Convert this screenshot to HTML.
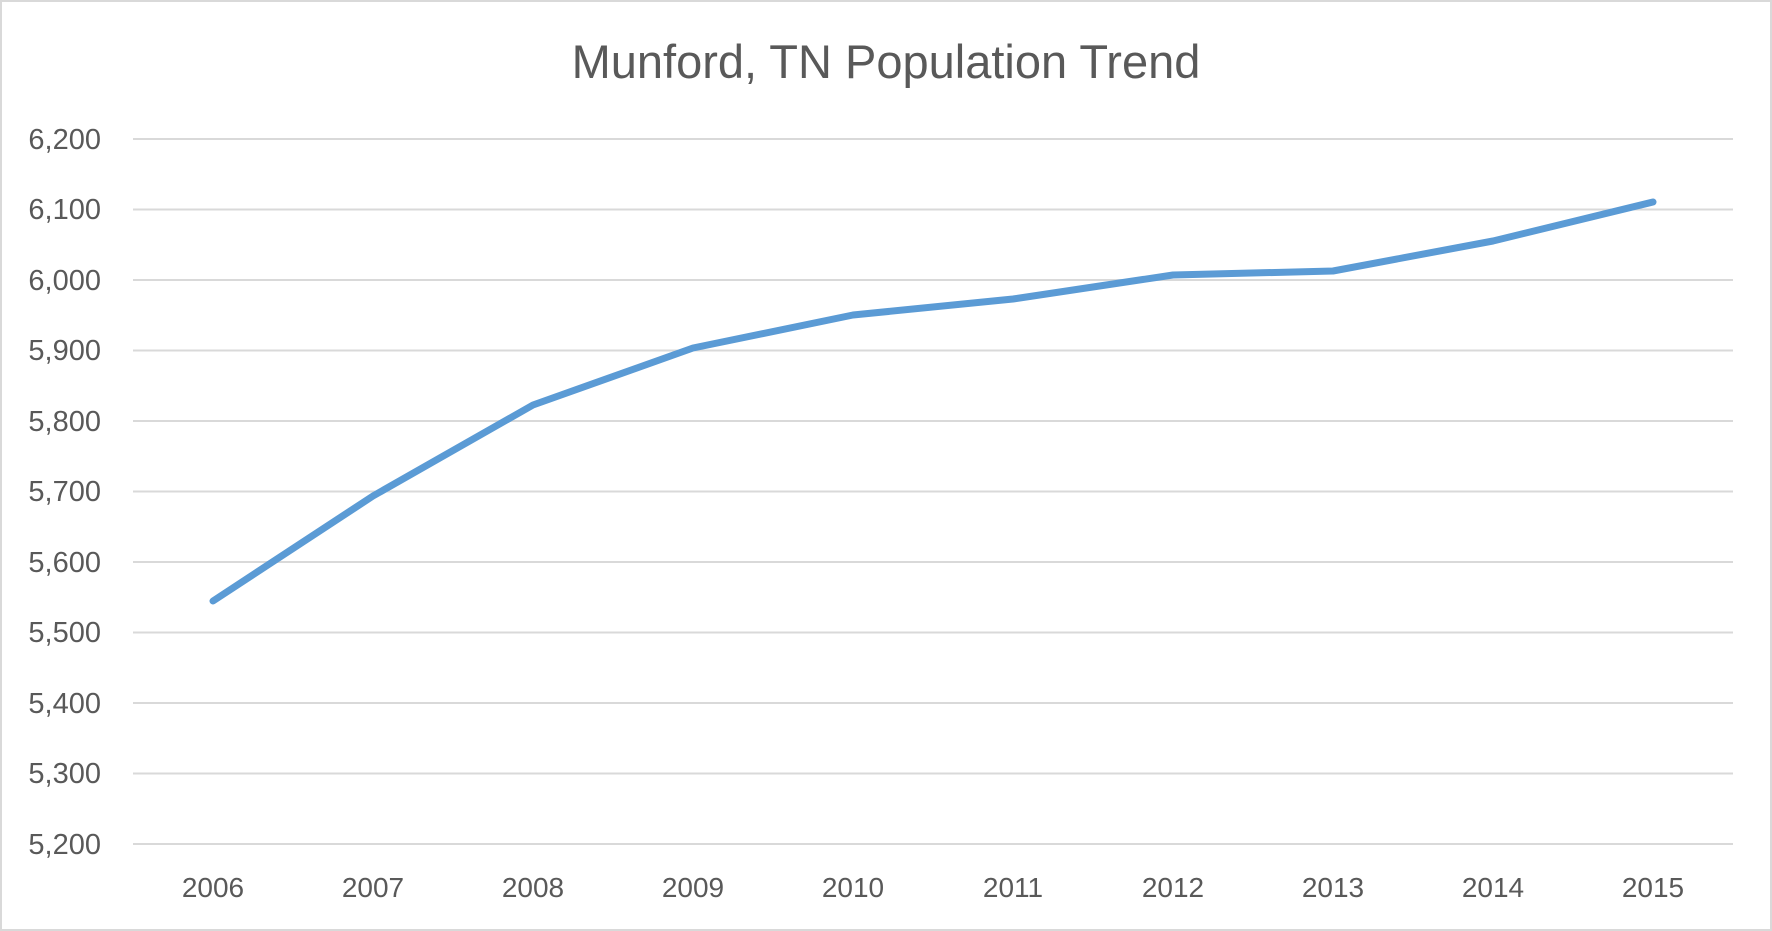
<!DOCTYPE html>
<html><head><style>body{margin:0;background:#fff}svg{display:block}</style></head><body>
<svg width="1772" height="931" xmlns="http://www.w3.org/2000/svg" font-family="Liberation Sans, sans-serif">
<rect x="1" y="1" width="1770" height="929" fill="#fff" stroke="#d9d9d9" stroke-width="2"/>
<text x="886" y="78" text-anchor="middle" font-size="47" fill="#595959">Munford, TN Population Trend</text>
<g stroke="#d9d9d9" stroke-width="2">
<line x1="133" x2="1733" y1="139" y2="139"/><line x1="133" x2="1733" y1="209.5" y2="209.5"/>
<line x1="133" x2="1733" y1="280" y2="280"/><line x1="133" x2="1733" y1="350.5" y2="350.5"/>
<line x1="133" x2="1733" y1="421" y2="421"/><line x1="133" x2="1733" y1="491.5" y2="491.5"/>
<line x1="133" x2="1733" y1="562" y2="562"/><line x1="133" x2="1733" y1="632.5" y2="632.5"/>
<line x1="133" x2="1733" y1="703" y2="703"/><line x1="133" x2="1733" y1="773.5" y2="773.5"/>
<line x1="133" x2="1733" y1="844" y2="844"/>
</g>
<g font-size="29" fill="#595959" text-anchor="end">
<text x="101" y="149">6,200</text><text x="101" y="219">6,100</text><text x="101" y="290">6,000</text>
<text x="101" y="360">5,900</text><text x="101" y="431">5,800</text><text x="101" y="501">5,700</text>
<text x="101" y="572">5,600</text><text x="101" y="642">5,500</text><text x="101" y="713">5,400</text>
<text x="101" y="783">5,300</text><text x="101" y="854">5,200</text>
</g>
<g font-size="28" fill="#595959" text-anchor="middle">
<text x="213" y="897">2006</text><text x="373" y="897">2007</text><text x="533" y="897">2008</text>
<text x="693" y="897">2009</text><text x="853" y="897">2010</text><text x="1013" y="897">2011</text>
<text x="1173" y="897">2012</text><text x="1333" y="897">2013</text><text x="1493" y="897">2014</text>
<text x="1653" y="897">2015</text>
</g>
<polyline fill="none" stroke="#5b9bd5" stroke-width="7" stroke-linejoin="round" stroke-linecap="round"
points="213,601 373,496 533,405 693,348 853,315 1013,299 1173,275 1333,271 1493,241 1653,202"/>
</svg>
</body></html>
